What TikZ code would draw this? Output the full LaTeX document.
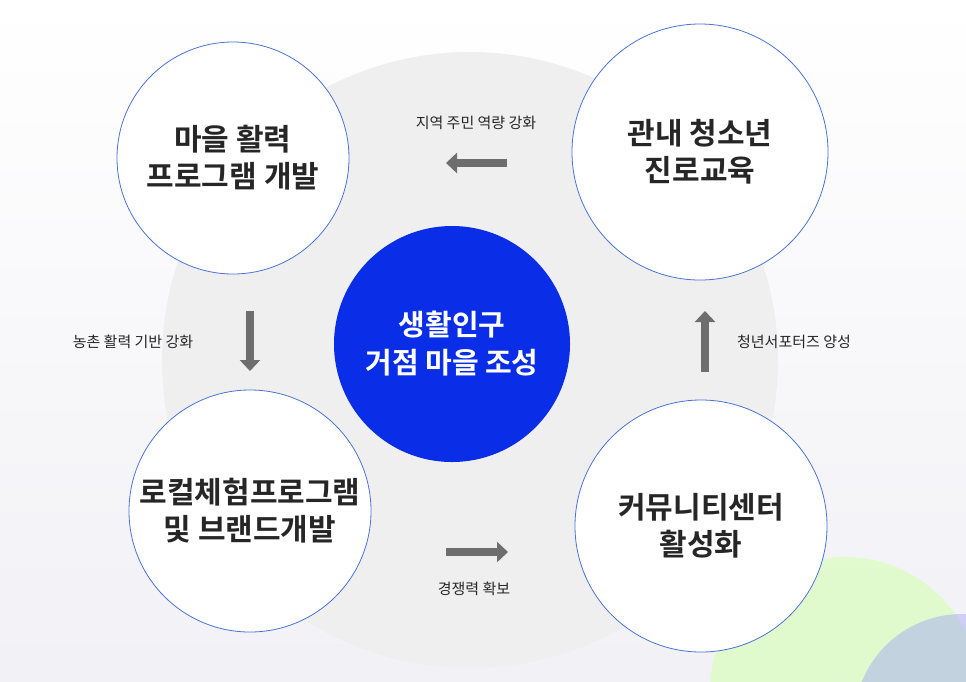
\documentclass[tikz,border=0pt]{standalone}
\usepackage{fontspec}
\newfontfamily\kr{Noto Sans CJK KR}
\newfontfamily\krb{Noto Sans CJK KR Bold}
\usetikzlibrary{arrows.meta}
\definecolor{bgtop}{HTML}{FFFFFF}
\definecolor{bgbot}{HTML}{F1F1F6}
\definecolor{ringgray}{HTML}{EFEFEF}
\definecolor{cblue}{HTML}{0A2EE8}
\definecolor{edgeblue}{HTML}{4A72D8}
\definecolor{arrgray}{HTML}{6E6E6E}
\tikzset{
  stage/.style={circle,draw=edgeblue,line width=0.8pt,fill=white,minimum size=#1,align=center,font=\krb\fontsize{30}{37}\selectfont,text=black!85},
  lbl/.style={font=\kr\fontsize{15}{17}\selectfont,text=black!85},
  blockarrow/.style={draw=arrgray,-{Triangle[length=11pt,width=20pt]},line width=8pt}
}
\begin{document}
\begin{tikzpicture}[x=1pt,y=-1pt]
\useasboundingbox (0,0) rectangle (966,681);
\shade[top color=bgtop,bottom color=bgbot] (0,0) rectangle (966,681);
\begin{scope}
\clip (0,0) rectangle (966,681);
\fill[green!40!lime!30!white,opacity=0.6] (845,692) circle (135);
\fill[blue!45!white,opacity=0.35] (962,722) circle (108);
\end{scope}
\fill[ringgray] (470,360) circle (308);
\node[stage=232pt] (a) at (233,158) {마을 활력\\프로그램 개발};
\node[stage=256pt] (b) at (700,152) {관내 청소년\\진로교육};
\node[stage=242pt] (c) at (250,511) {로컬체험프로그램\\및 브랜드개발};
\node[stage=252pt] (d) at (701,526) {커뮤니티센터\\활성화};
\node[circle,fill=cblue,minimum size=236pt,align=center,text=white,font=\krb\fontsize{29}{38}\selectfont] (m) at (452,344) {생활인구\\거점 마을 조성};
\coordinate (t1) at (507,163); \coordinate (t2) at (446,163);
\coordinate (l1) at (250,311); \coordinate (l2) at (250,371);
\coordinate (u1) at (446,552); \coordinate (u2) at (508,552);
\coordinate (r1) at (705,372); \coordinate (r2) at (705,311);
\draw[blockarrow] (t1) -- (t2);
\draw[blockarrow] (l1) -- (l2);
\draw[blockarrow] (u1) -- (u2);
\draw[blockarrow] (r1) -- (r2);
\node[lbl] (lt) at (476,123) {지역 주민 역량 강화};
\node[lbl] (ll) at (133,342) {농촌 활력 기반 강화};
\node[lbl] (lb) at (474,589) {경쟁력 확보};
\node[lbl] (lr) at (794,342) {청년서포터즈 양성};
\end{tikzpicture}
\end{document}
